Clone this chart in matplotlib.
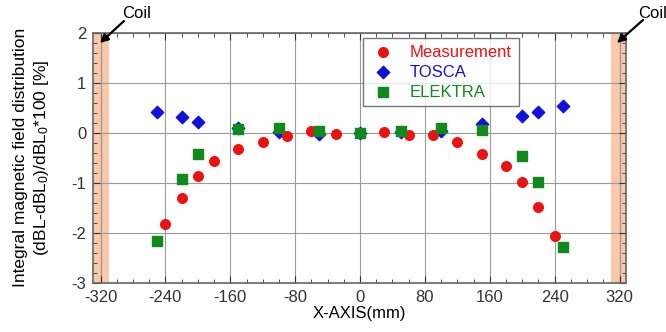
import numpy as np
import matplotlib.pyplot as plt
from matplotlib.ticker import MultipleLocator
from matplotlib.patches import FancyArrowPatch

plt.rcParams['font.family'] = ['Liberation Sans', 'DejaVu Sans']
plt.rcParams['axes.unicode_minus'] = False
plt.rcParams['mathtext.fontset'] = 'custom'
plt.rcParams['mathtext.rm'] = 'Liberation Sans'
plt.rcParams['mathtext.it'] = 'Liberation Sans'

# Measurement (red circles)
meas_x = [-240, -220, -200, -180, -150, -120, -90, -60, -30, 0, 30, 60, 90, 120, 150, 180, 200, 220, 240]
meas_y = [-1.82, -1.30, -0.87, -0.57, -0.33, -0.19, -0.07, 0.03, -0.03, 0.0, 0.01, -0.05, -0.04, -0.19, -0.42, -0.67, -0.99, -1.49, -2.07]

# TOSCA (blue diamonds)
tosca_x = [-250, -220, -200, -150, -100, -50, 0, 50, 100, 150, 200, 220, 250]
tosca_y = [0.41, 0.31, 0.21, 0.09, 0.01, -0.03, 0.0, 0.02, 0.04, 0.17, 0.33, 0.41, 0.54]

# ELEKTRA (green squares)
elek_x = [-250, -220, -200, -150, -100, -50, 0, 50, 100, 150, 200, 220, 250]
elek_y = [-2.16, -0.93, -0.42, 0.08, 0.10, 0.04, 0.0, 0.03, 0.10, 0.06, -0.46, -0.99, -2.29]

coil_pos = [-320, 320]

fig = plt.figure(figsize=(6.66, 3.32), dpi=100)
ax = fig.add_axes([0.14, 0.148, 0.80, 0.753])

# coil bands
ax.axvspan(-330, -309, color='#f9c9a9', zorder=0, lw=0)
ax.axvspan(309, 330, color='#f9c9a9', zorder=0, lw=0)
for c in coil_pos:
    ax.axvline(c, color='#7a5a4a', lw=0.8, zorder=1)

ax.grid(True, color='#9a9a9a', lw=0.8, zorder=0.5)

ax.scatter(meas_x, meas_y, marker='o', s=48, color='#ee1111', label='Measurement', zorder=3)
ax.scatter(tosca_x, tosca_y, marker='D', s=40, color='#1111dd', label='TOSCA', zorder=2)
ax.scatter(elek_x, elek_y, marker='s', s=48, color='#108a1a', label='ELEKTRA', zorder=4)

ax.set_xlim(-329, 328)
ax.set_ylim(-3, 2)
ax.xaxis.set_major_locator(MultipleLocator(80))
ax.xaxis.set_minor_locator(MultipleLocator(20))
ax.yaxis.set_major_locator(MultipleLocator(1))
ax.yaxis.set_minor_locator(MultipleLocator(0.2))
ax.tick_params(which='both', direction='in', top=True, right=True, labelsize=12, colors='#333333')
ax.tick_params(which='major', length=5, pad=5)
ax.tick_params(which='minor', length=3)
for sp in ax.spines.values():
    sp.set_color('#666666')
    sp.set_linewidth(1.2)

ax.set_xlabel('X-AXIS(mm)', fontsize=12, labelpad=1)
ax.set_ylabel('Integral magnetic field distribution\n(dBL-dBL$_0$)/dBL$_0$*100 [%]', fontsize=12.5, labelpad=15,
              linespacing=1.25)

leg = ax.legend(loc='upper left', bbox_to_anchor=(0.507, 0.98), borderaxespad=0, frameon=True,
                fancybox=False, edgecolor='#555555', fontsize=12, handletextpad=0.8, borderpad=0.4,
                labelspacing=0.3, handlelength=1.6)
leg.get_frame().set_linewidth(1.0)
for txt, col in zip(leg.get_texts(), ['#ee1111', '#1111dd', '#108a1a']):
    txt.set_color(col)

# coil labels with arrows (figure pixel coordinates)
for tail, tip in [((124, 311), (100, 289)), ((643, 312), (617, 289))]:
    arr = FancyArrowPatch(tail, tip, transform=None, arrowstyle='-|>', color='black',
                          lw=1.6, mutation_scale=12, shrinkA=0, shrinkB=0, zorder=10)
    fig.add_artist(arr)
fig.text(137, 319, 'Coil', transform=None, fontsize=12, ha='center', va='center')
fig.text(638, 319, 'Coil', transform=None, fontsize=12, ha='left', va='center')

fig.savefig('out.png', dpi=100)
